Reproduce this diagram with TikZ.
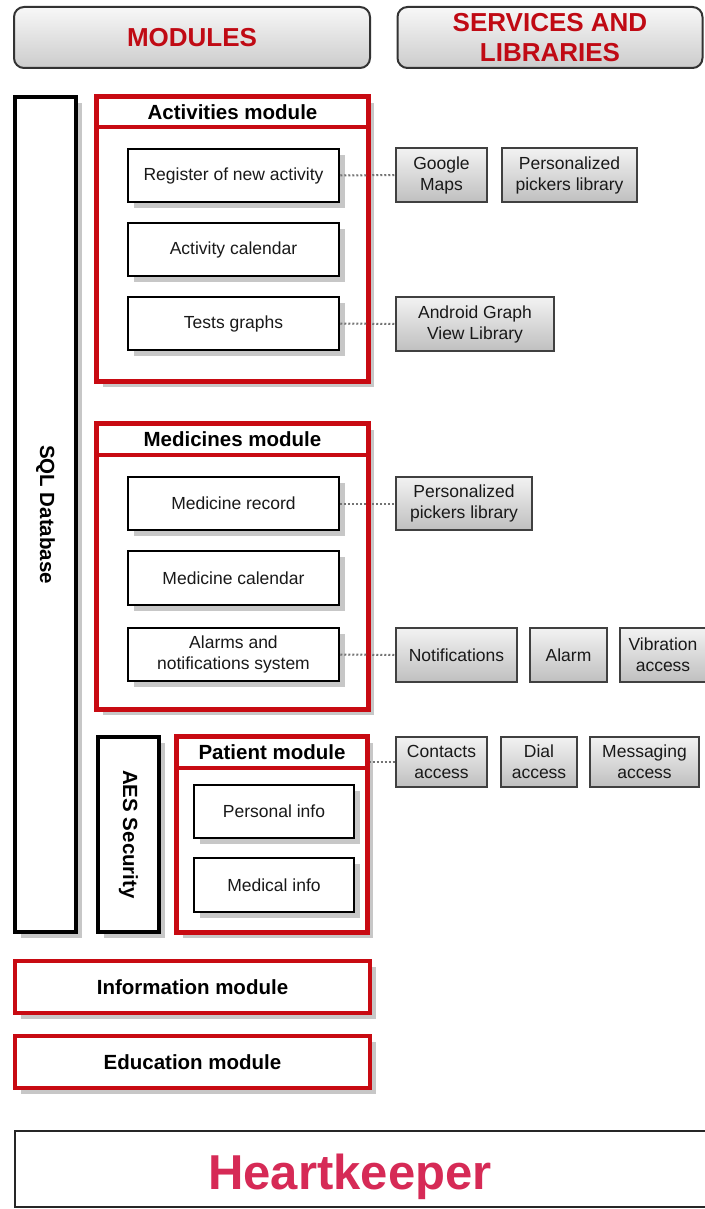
\documentclass[tikz,border=0pt]{standalone}
\usepackage{fontspec}
\setmainfont{Liberation Sans}
\usetikzlibrary{shadows}
\definecolor{modred}{RGB}{200,10,18}
\definecolor{hdred}{RGB}{192,10,20}
\definecolor{hkpink}{RGB}{214,42,86}
\begin{document}
\begin{tikzpicture}[x=1pt,y=-1pt,
  shad/.style={drop shadow={shadow xshift=6pt,shadow yshift=-6pt,fill=black!22,opacity=1}},
  regtxt/.style={font=\fontsize{17.5}{21}\selectfont, text=black!90, align=center},
  boldtxt/.style={font=\fontsize{20.5}{24}\selectfont\bfseries, text=black, align=center},
  header/.style={draw=black!80, line width=2pt, rounded corners=10pt, top color=black!3, bottom color=black!20,
     font=\fontsize{26}{30}\selectfont\bfseries, text=hdred, align=center, inner sep=0pt},
  blackcol/.style={draw=black, line width=3.3pt, fill=white, shad, inner sep=0pt},
  redbox/.style={draw=modred, line width=3.3pt, fill=white, shad, inner sep=0pt},
  redtitle/.style={draw=modred, line width=3.3pt, fill=white, inner sep=0pt, boldtxt},
  redline/.style={draw=modred, line width=3.3pt},
  innerbox/.style={draw=black, line width=2.5pt, fill=white, shad, inner sep=0pt, regtxt},
  svc/.style={draw=black!75, line width=2pt, top color=black!5, bottom color=black!25, inner sep=0pt, regtxt},
  conn/.style={draw=black!55, line width=2pt, dash pattern=on 2pt off 2pt},
  hkbox/.style={draw=black!85, line width=2pt, fill=white, inner sep=0pt}
]
\useasboundingbox (0,0) rectangle (704,1209);

% headers
\node[header, minimum width=356pt, minimum height=61pt] (hmod) at (192,37.5) {MODULES};
\node[header, minimum width=305pt, minimum height=61pt] (hsrv) at (550,37.5) {SERVICES AND\\LIBRARIES};

% vertical columns
\node[blackcol, minimum width=61pt, minimum height=835pt] (sql) at (45.5,514.5) {};
\node[boldtxt, rotate=-90] (sqlt) at (sql.center) {SQL Database};
\node[blackcol, minimum width=61pt, minimum height=195pt] (aes) at (128.5,834.5) {};
\node[boldtxt, rotate=-90] (aest) at (aes.center) {AES Security};

% activities module
\node[redbox, minimum width=271pt, minimum height=284pt] (act) at (232.5,239) {};
\node[redtitle, minimum width=271pt, minimum height=30pt] (actt) at (232.5,112) {Activities module};
\node[innerbox, minimum width=211pt, minimum height=53pt] (reg) at (233.5,175.5) {Register of new activity};
\node[innerbox, minimum width=211pt, minimum height=53pt] (acal) at (233.5,249.5) {Activity calendar};
\node[innerbox, minimum width=211pt, minimum height=53pt] (tgr) at (233.5,323.5) {Tests graphs};

\node[svc, minimum width=91pt, minimum height=54pt] (gmap) at (441.5,175) {Google\\Maps};
\node[svc, minimum width=135pt, minimum height=54pt] (pick1) at (569.5,175) {Personalized\\pickers library};
\node[svc, minimum width=158pt, minimum height=54pt] (agv) at (475,324) {Android Graph\\View Library};

% medicines module
\node[redbox, minimum width=271pt, minimum height=285pt] (med) at (232.5,566.5) {};
\node[redtitle, minimum width=271pt, minimum height=31pt] (medt) at (232.5,439.5) {Medicines module};
\node[innerbox, minimum width=211pt, minimum height=53pt] (mrec) at (233.5,503.5) {Medicine record};
\node[innerbox, minimum width=211pt, minimum height=54pt] (mcal) at (233.5,578) {Medicine calendar};
\node[innerbox, minimum width=211pt, minimum height=53pt] (alrm) at (233.5,654.5) {Alarms and\\notifications system};

\node[svc, minimum width=136pt, minimum height=53pt] (pick2) at (464,503.5) {Personalized\\pickers library};
\node[svc, minimum width=121pt, minimum height=54pt] (notif) at (456.5,655) {Notifications};
\node[svc, minimum width=77pt, minimum height=54pt] (alarm) at (568.5,655) {Alarm};
\node[svc, minimum width=86pt, minimum height=54pt] (vib) at (663,655) {Vibration\\access};

% patient module
\node[redbox, minimum width=190pt, minimum height=195pt] (pat) at (272,834.5) {};
\node[redtitle, minimum width=190pt, minimum height=31pt] (patt) at (272,752.5) {Patient module};
\node[innerbox, minimum width=160pt, minimum height=53pt] (pers) at (274,811.5) {Personal info};
\node[innerbox, minimum width=160pt, minimum height=54pt] (medi) at (274,885) {Medical info};

\node[svc, minimum width=91pt, minimum height=50pt] (cont) at (441.5,762) {Contacts\\access};
\node[svc, minimum width=76pt, minimum height=50pt] (dial) at (539,762) {Dial\\access};
\node[svc, minimum width=109pt, minimum height=50pt] (msg) at (644.5,762) {Messaging\\access};

% other modules
\node[redbox, boldtxt, minimum width=355pt, minimum height=52pt] (info) at (192.5,987) {Information module};
\node[redbox, boldtxt, minimum width=355pt, minimum height=52pt] (edu) at (192.5,1062) {Education module};

% app box
\node[hkbox, minimum width=705pt, minimum height=76pt] (hk) at (367.5,1169) {};
\node[font=\fontsize{49}{56}\selectfont\bfseries, text=hkpink, anchor=base] (hkt) at (350,1189) {Heartkeeper};

% connectors
\draw[conn] (reg.east) -- (gmap.west);
\draw[conn] (tgr.east) -- (agv.west);
\draw[conn] (mrec.east) -- (pick2.west);
\draw[conn] (alrm.east) -- (notif.west);
\draw[conn] (cont.west -| pat.east) -- (cont.west);

% module borders over connectors
\draw[redline] (act.north west) rectangle (act.south east);
\draw[redline] (med.north west) rectangle (med.south east);
\draw[redline] (pat.north west) rectangle (pat.south east);
\end{tikzpicture}
\end{document}
